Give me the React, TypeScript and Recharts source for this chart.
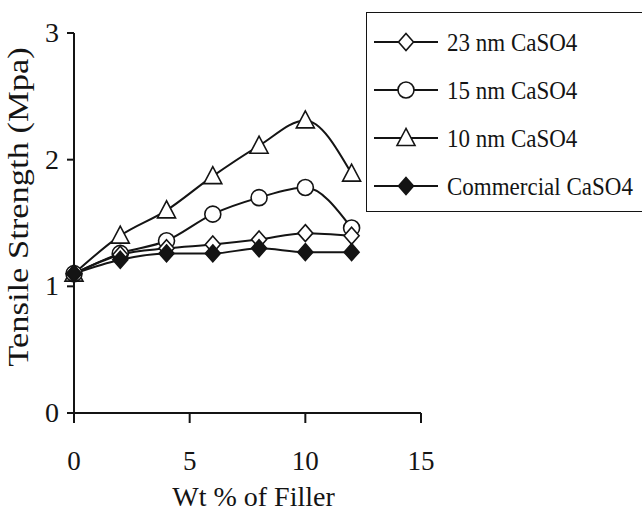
import React from 'react';
import { LineChart, Line, XAxis, YAxis } from 'recharts';

// Wt % of filler (x) and tensile strength in MPa (y)
const fillerWt = [0, 2, 4, 6, 8, 10, 12];
const nm23 = [1.1, 1.25, 1.3, 1.33, 1.37, 1.42, 1.4];
const nm15 = [1.1, 1.26, 1.36, 1.57, 1.7, 1.78, 1.46];
const nm10 = [1.1, 1.4, 1.6, 1.87, 2.11, 2.31, 1.89];
const commercial = [1.1, 1.21, 1.26, 1.26, 1.3, 1.27, 1.27];

const xTicks = [0, 5, 10, 15];
const yTicks = [0, 1, 2, 3];

const FONT = 'Liberation Serif, Times New Roman, serif';
const INK = '#141414';

type Shape = 'diamondOpen' | 'circle' | 'triangle' | 'diamondFilled';

const legendItems: { key: string; name: string; shape: Shape }[] = [
  { key: 'nm23', name: '23 nm CaSO4', shape: 'diamondOpen' },
  { key: 'nm15', name: '15 nm CaSO4', shape: 'circle' },
  { key: 'nm10', name: '10 nm CaSO4', shape: 'triangle' },
  { key: 'commercial', name: 'Commercial CaSO4', shape: 'diamondFilled' },
];

const chartData = fillerWt.map((wt, i) => ({
  wt,
  nm23: nm23[i],
  nm15: nm15[i],
  nm10: nm10[i],
  commercial: commercial[i],
}));

function Marker({ shape, cx, cy }: { shape: Shape; cx: number; cy: number }) {
  if (shape === 'circle') {
    return <circle cx={cx} cy={cy} r={8} fill="#fff" stroke={INK} strokeWidth={1.6} />;
  }
  if (shape === 'triangle') {
    const pts = `${cx},${cy - 9.5} ${cx - 9},${cy + 7.5} ${cx + 9},${cy + 7.5}`;
    return <polygon points={pts} fill="#fff" stroke={INK} strokeWidth={1.6} />;
  }
  const filled = shape === 'diamondFilled';
  const hw = 7.5;
  const hh = 8.5;
  const pts = `${cx},${cy - hh} ${cx + hw},${cy} ${cx},${cy + hh} ${cx - hw},${cy}`;
  return (
    <polygon
      points={pts}
      fill={filled ? INK : '#fff'}
      stroke={INK}
      strokeWidth={1.6}
    />
  );
}

const makeDot = (shape: Shape) => (props: any) => {
  const { cx, cy, index } = props;
  if (cx == null || cy == null) return <g key={`d-${shape}-${index}`} />;
  return (
    <g key={`d-${shape}-${index}`}>
      <Marker shape={shape} cx={cx} cy={cy} />
    </g>
  );
};

// legend drawn as a box beside the plot, like the original figure
function LegendBox() {
  return (
    <div
      style={{
        position: 'absolute',
        left: 366,
        top: 12,
        width: 278,
        height: 200,
        boxSizing: 'border-box',
        border: `1.5px solid ${INK}`,
        background: '#fff',
        paddingTop: 5,
        fontFamily: FONT,
        fontSize: 23,
        color: INK,
      }}
    >
      {legendItems.map((item) => (
        <div key={item.key} style={{ display: 'flex', alignItems: 'center', height: 48 }}>
          <svg width={80} height={26} style={{ display: 'block' }}>
            <line x1={7} y1={13} x2={71} y2={13} stroke={INK} strokeWidth={2} />
            <Marker shape={item.shape} cx={39} cy={13} />
          </svg>
          <span style={{ whiteSpace: 'nowrap', lineHeight: 1, display: 'inline-block', transform: 'scaleY(1.12)' }}>
            {item.name}
          </span>
        </div>
      ))}
    </div>
  );
}

function XTick(props: any) {
  const { x, y, payload } = props;
  return (
    <text x={x} y={y + 27} textAnchor="middle" fontSize={27} fill={INK} fontFamily={FONT}>
      {payload.value}
    </text>
  );
}

function YTick(props: any) {
  const { x, y, payload } = props;
  return (
    <text x={x} y={y + 9} textAnchor="end" fontSize={28} fill={INK} fontFamily={FONT}>
      {payload.value}
    </text>
  );
}

function YTitle(props: any) {
  const vb = props.viewBox || { x: 0, y: 33, width: 74, height: 380 };
  const cx = vb.x + 18;
  const cy = vb.y + vb.height / 2 - 16;
  return (
    <text
      transform={`translate(${cx},${cy}) rotate(-90) scale(1.15,1)`}
      textAnchor="middle"
      dominantBaseline="central"
      fontSize={30}
      fill={INK}
      fontFamily={FONT}
    >
      Tensile Strength (Mpa)
    </text>
  );
}

function XTitle(props: any) {
  const vb = props.viewBox || { x: 74, y: 413, width: 347, height: 102 };
  return (
    <text
      x={vb.x + vb.width / 2 + 6}
      y={vb.y + 93}
      textAnchor="middle"
      fontSize={28}
      fill={INK}
      fontFamily={FONT}
    >
      Wt % of Filler
    </text>
  );
}

export default function App() {
  return (
    <div style={{ position: 'absolute', left: 0, top: 0, width: 642, height: 515, background: '#fff', overflow: 'hidden' }}>
      <LineChart
        width={642}
        height={515}
        data={chartData}
        margin={{ top: 33, right: 221, left: 0, bottom: 0 }}
      >
        <XAxis
          dataKey="wt"
          type="number"
          domain={[0, 15]}
          ticks={xTicks}
          height={102}
          tickSize={10}
          tickMargin={20}
          tick={<XTick />}
          axisLine={{ stroke: INK, strokeWidth: 2 }}
          tickLine={{ stroke: INK, strokeWidth: 2 }}
          label={<XTitle />}
        />
        <YAxis
          type="number"
          domain={[0, 3]}
          ticks={yTicks}
          width={74}
          tickSize={7}
          tickMargin={8}
          tick={<YTick />}
          axisLine={{ stroke: INK, strokeWidth: 2 }}
          tickLine={{ stroke: INK, strokeWidth: 2 }}
          label={<YTitle />}
        />
        <Line
          type="monotone"
          dataKey="nm10"
          name="10 nm CaSO4"
          stroke={INK}
          strokeWidth={2}
          dot={makeDot('triangle')}
          activeDot={false}
          isAnimationActive={false}
        />
        <Line
          type="monotone"
          dataKey="nm15"
          name="15 nm CaSO4"
          stroke={INK}
          strokeWidth={2}
          dot={makeDot('circle')}
          activeDot={false}
          isAnimationActive={false}
        />
        <Line
          type="monotone"
          dataKey="nm23"
          name="23 nm CaSO4"
          stroke={INK}
          strokeWidth={2}
          dot={makeDot('diamondOpen')}
          activeDot={false}
          isAnimationActive={false}
        />
        <Line
          type="monotone"
          dataKey="commercial"
          name="Commercial CaSO4"
          stroke={INK}
          strokeWidth={2}
          dot={makeDot('diamondFilled')}
          activeDot={false}
          isAnimationActive={false}
        />
      </LineChart>
      <LegendBox />
    </div>
  );
}
